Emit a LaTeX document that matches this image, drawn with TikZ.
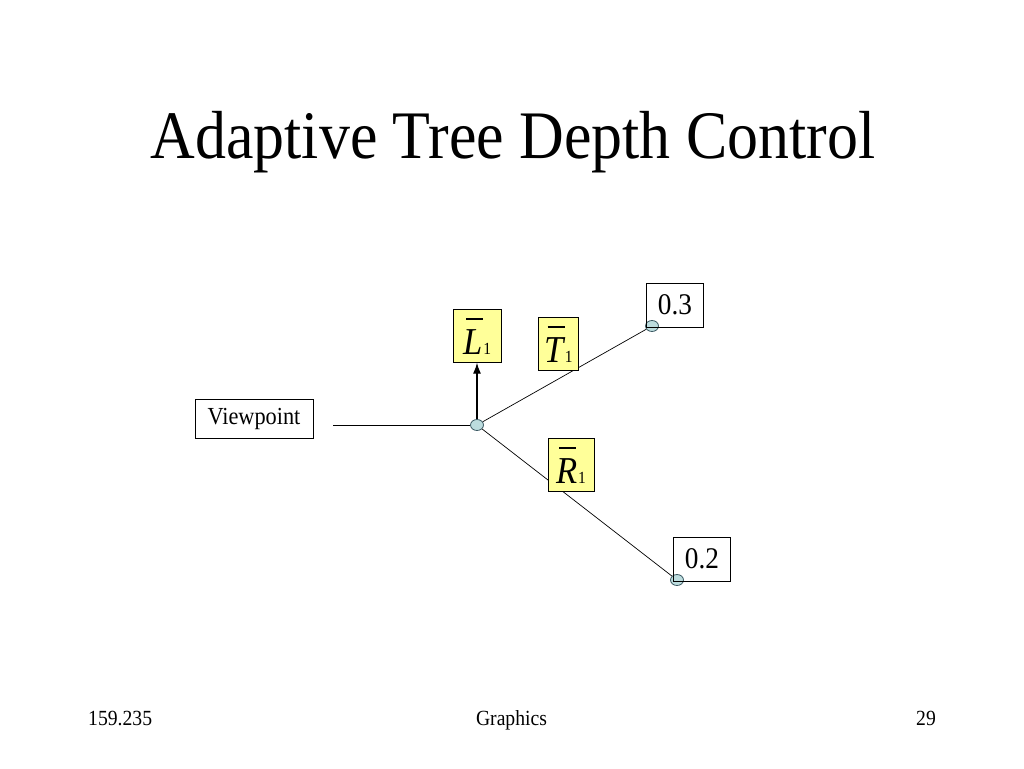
\documentclass[tikz,border=0pt]{standalone}
\usepackage{amsmath}
\usepackage{fontspec}
\setmainfont{Liberation Serif}[FakeStretch=0.91]
\usepackage{tikz}
\usetikzlibrary{arrows.meta,positioning,shapes}
\definecolor{boxyellow}{RGB}{255,255,153}
\definecolor{pointblue}{RGB}{188,220,222}
\definecolor{pointedge}{RGB}{60,90,100}
\tikzset{label box/.style={
    draw,
    fill=boxyellow,
    minimum height=53pt,
    inner sep=0pt,
    font=\fontsize{38}{44}\selectfont
  },
  value box/.style={
    draw,
    minimum width=57pt,
    minimum height=44pt,
    inner sep=0pt,
    font=\fontsize{30}{36}\selectfont
  },
  hit point/.style={
    ellipse,
    draw=pointedge,
    line width=0.8pt,
    fill=pointblue,
    minimum width=13pt,
    minimum height=11pt,
    inner sep=0pt
  }
}
\newcommand{\barsym}[1]{\rlap{\kern3pt\rule[34pt]{17pt}{2pt}}{\itshape #1}\kern1pt{\fontsize{17}{20}\selectfont 1}}

\begin{document}
\begin{tikzpicture}[x=1pt,y=-1pt]
    \fill[white] (0,0) rectangle (1024,768);
    \useasboundingbox (0,0) rectangle (1024,768);
    % title and footer
    \node[anchor=base, inner sep=0pt, font=\fontsize{68}{80}\selectfont] (title) at (513,158) {Adaptive Tree Depth Control};
    \node[anchor=base west, inner sep=0pt, font=\fontsize{21.6}{26}\selectfont] (course) at (88,725) {159.235};
    \node[anchor=base, inner sep=0pt, font=\fontsize{21.6}{26}\selectfont] (topic) at (511.5,725) {Graphics};
    \node[anchor=base, inner sep=0pt, font=\fontsize{21.6}{26}\selectfont] (page) at (926,725) {29};
    % tree
    \node[draw, minimum width=118pt, minimum height=39pt, inner sep=0pt, font=\fontsize{24.5}{30}\selectfont] (viewpoint) at (254,418.5) {Viewpoint};
    \coordinate[right=20pt of viewpoint.east] (ray start);
    \node[hit point] (hit) at (477,425) {};
    \node[hit point] (hit top) at (652,326) {};
    \node[hit point] (hit bottom) at (677,580) {};
    \node[label box, minimum width=48pt] (light) at (477,336) {\barsym{L}};
    \draw[line width=0.8pt] (ray start |- hit) -- (hit);
    \draw[line width=0.7pt] (hit) -- (hit top);
    \draw[line width=0.7pt] (hit) -- (hit bottom);
    \draw[-{Latex[length=11pt,width=8pt]}, line width=1.2pt] (hit) -- (light);
    \node[label box, minimum width=40pt] (trans) at (558.5,344) {\barsym{T}};
    \node[label box, minimum width=46pt] (refl) at (571,465) {\barsym{R}};
    \node[value box] (top weight) at (675,305) {0.3};
    \node[value box] (bottom weight) at (702,559) {0.2};
\end{tikzpicture}
\end{document}
